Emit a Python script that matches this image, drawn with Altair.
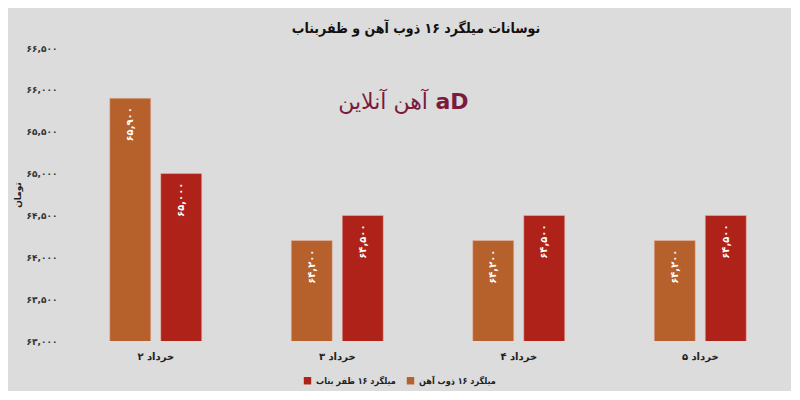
import altair as alt
import pandas as pd

# ---- data ----
dates = ["۲\u200e خرداد", "۳\u200e خرداد", "۴\u200e خرداد", "۵\u200e خرداد"]
series_names = ["میلگرد ۱۶ ذوب آهن", "میلگرد ۱۶ ظفر بناب"]
zob_values = [65900, 64200, 64200, 64200]
zafar_values = [65000, 64500, 64500, 64500]
zob_labels = ["۶۵,۹۰۰", "۶۴,۲۰۰", "۶۴,۲۰۰", "۶۴,۲۰۰"]
zafar_labels = ["۶۵,۰۰۰", "۶۴,۵۰۰", "۶۴,۵۰۰", "۶۴,۵۰۰"]
series_colors = ["#B6602C", "#AF2219"]
y_ticks = [63000, 63500, 64000, 64500, 65000, 65500, 66000, 66500]
y_tick_labels = ["۶۳,۰۰۰", "۶۳,۵۰۰", "۶۴,۰۰۰", "۶۴,۵۰۰",
                 "۶۵,۰۰۰", "۶۵,۵۰۰", "۶۶,۰۰۰", "۶۶,۵۰۰"]
title_text = "نوسانات میلگرد ۱۶ ذوب آهن و ظفربناب"
y_title = "تومان"
logo_text = "آهن آنلاین"

rows = []
for d, v, l in zip(dates, zob_values, zob_labels):
    rows.append({"date": d, "series": series_names[0], "value": v, "label": l})
for d, v, l in zip(dates, zafar_values, zafar_labels):
    rows.append({"date": d, "series": series_names[1], "value": v, "label": l})
df = pd.DataFrame(rows)

label_expr = " : ".join(
    f"datum.value == {t} ? '{s}'" for t, s in zip(y_ticks, y_tick_labels)
) + " : ''"

FONT = "DejaVu Sans"
CFONT = "DejaVu Sans Condensed"

x_enc = alt.X("date:N", sort=dates, title=None,
              scale=alt.Scale(paddingInner=0.493, paddingOuter=0.2465),
              axis=alt.Axis(labelAngle=0, labelFont=FONT, labelFontWeight="bold",
                            labelFontSize=10, labelColor="#222222", labelPadding=10,
                            ticks=False, domain=False))
xoff_enc = alt.XOffset("series:N", sort=series_names,
                       scale=alt.Scale(paddingInner=0.196, paddingOuter=0))
y_enc = alt.Y("value:Q", title=y_title,
              scale=alt.Scale(domain=[63000, 66500], zero=False, nice=False),
              axis=alt.Axis(values=y_ticks, labelExpr=label_expr, grid=False,
                            ticks=False, domain=False, labelFont=FONT,
                            labelFontWeight="bold", labelFontSize=9,
                            labelColor="#333333", labelPadding=8,
                            titleFont=FONT, titleFontWeight="bold", titleFontSize=9,
                            titleColor="#222222", titlePadding=4))

bars = alt.Chart(df).mark_bar(clip=True, stroke="#E9B8A8", strokeWidth=0.8,
                              strokeOpacity=0.7).encode(
    x=x_enc,
    xOffset=xoff_enc,
    y=y_enc,
    color=alt.Color("series:N",
                    scale=alt.Scale(domain=[series_names[1], series_names[0]],
                                    range=[series_colors[1], series_colors[0]]),
                    legend=alt.Legend(title=None, orient="none", direction="horizontal",
                                      legendX=238, legendY=328, symbolType="square",
                                      symbolSize=55, labelFont=CFONT,
                                      labelFontWeight="bold", labelFontSize=9,
                                      labelColor="#222222", columnPadding=10,
                                      labelOffset=4, symbolStrokeWidth=0)),
)

labels = alt.Chart(df).mark_text(angle=270, align="right", baseline="middle",
                                 dx=-9, color="white", font=FONT,
                                 fontWeight="bold", fontSize=10).encode(
    x=alt.X("date:N", sort=dates),
    xOffset=alt.XOffset("series:N", sort=series_names),
    y="value:Q",
    text="label:N",
)

logo = alt.Chart(pd.DataFrame({"t": [logo_text]})).mark_text(
    font=FONT, fontSize=22, color="#7A1B3D", align="center", baseline="middle"
).encode(text="t:N", x=alt.value(318), y=alt.value(54))

logo_mark = alt.Chart(pd.DataFrame({"t": ["aD"]})).mark_text(
    font=FONT, fontSize=22, fontWeight="bold", color="#7A1B3D",
    align="center", baseline="middle"
).encode(text="t:N", x=alt.value(387), y=alt.value(54))

chart = alt.layer(bars, labels, logo, logo_mark).properties(
    width=726, height=293,
    title=alt.TitleParams(title_text, font=CFONT, fontSize=14, fontWeight="bold",
                          color="#111111", offset=8, dx=-12),
    background="#DCDCDC",
    padding={"left": 57, "top": 40, "right": 0, "bottom": 50},
    autosize=alt.AutoSizeParams(type="none"),
).configure_view(stroke=None)

chart.save("out.html", embed_options={"renderer": "svg", "actions": False})
